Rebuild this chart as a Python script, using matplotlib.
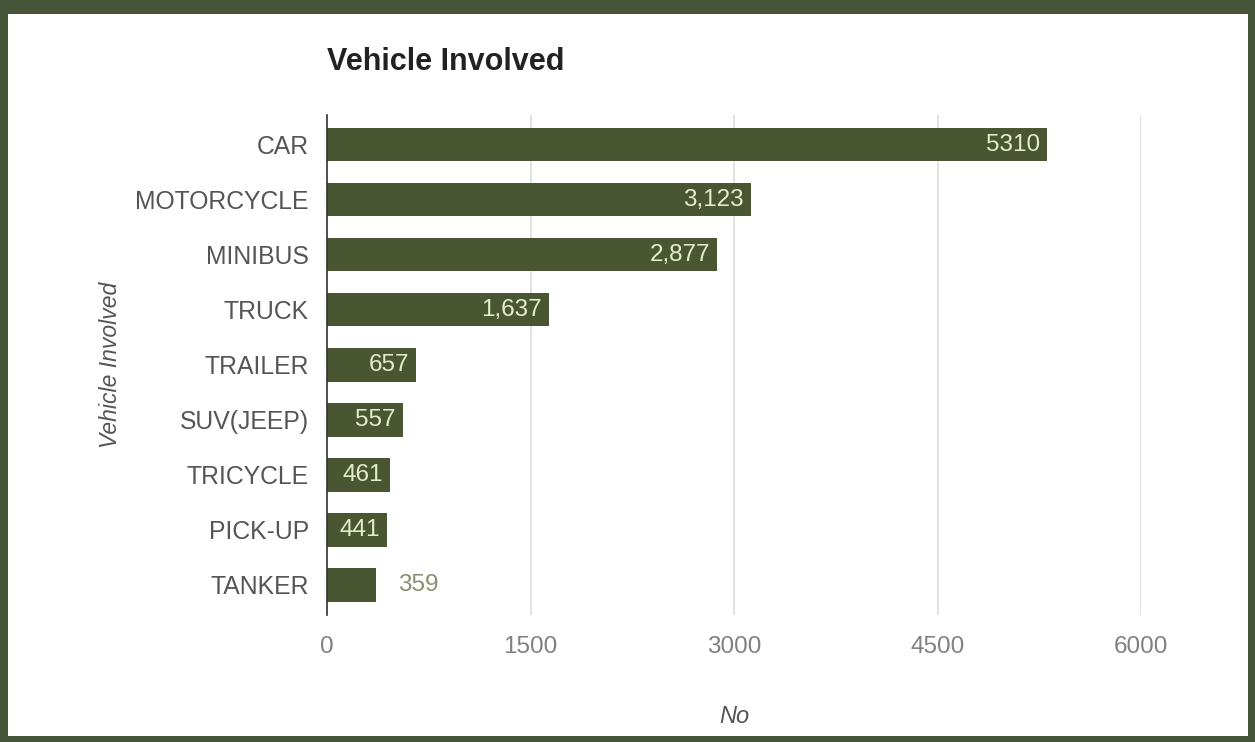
import matplotlib
matplotlib.use("Agg")
import matplotlib.pyplot as plt
from matplotlib.patches import Rectangle

vehicles = ['CAR', 'MOTORCYCLE', 'MINIBUS', 'TRUCK', 'TRAILER', 'SUV(JEEP)', 'TRICYCLE', 'PICK-UP', 'TANKER']
counts = [5310, 3123, 2877, 1637, 657, 557, 461, 441, 359]
count_labels = ['5310', '3,123', '2,877', '1,637', '657', '557', '461', '441', '359']
x_ticks = [0, 1500, 3000, 4500, 6000]

BAR = '#4a5631'
FRAME = '#46553a'

plt.rcParams['font.family'] = ['Liberation Sans', 'DejaVu Sans']

W, H = 1255, 742
fig = plt.figure(figsize=(W / 100, H / 100), dpi=100)
fig.patch.set_facecolor(FRAME)
# white panel inside the dark frame, kept behind the axes
fig.patches.append(Rectangle((8 / W, 6 / H), (1248 - 8) / W, (728 - 6) / H,
                             transform=fig.transFigure, facecolor='white',
                             edgecolor='none', zorder=-1))

ax = fig.add_axes([327 / W, 1 - 615 / H, (1141 - 327) / W, (615 - 115) / H])
ax.set_facecolor('white')

y = list(range(len(vehicles)))
ax.barh(y, counts, height=0.61, color=BAR, zorder=3)
ax.set_ylim(len(vehicles) - 0.45, -0.54)
ax.set_xlim(0, 6000)

for i, (v, lab) in enumerate(zip(counts, count_labels)):
    if v < 400:
        ax.annotate(lab, (v, i), xytext=(16, 0), textcoords='offset points',
                    ha='left', va='center', fontsize=17.5, color='#8a8f70', zorder=4)
    else:
        ax.annotate(lab, (v, i), xytext=(-5, 0), textcoords='offset points',
                    ha='right', va='center', fontsize=17.5, color='#e6eacf', zorder=4)

ax.set_yticks(y)
ax.set_yticklabels(vehicles, fontsize=17.8, color='#555555')
ax.set_xticks(x_ticks)
ax.set_xticklabels([str(t) for t in x_ticks], fontsize=17.5, color='#808080')
ax.tick_params(axis='both', length=0)
ax.tick_params(axis='y', pad=13)
ax.tick_params(axis='x', pad=15)

ax.grid(axis='x', color='#dddddd', linewidth=1.2, zorder=0)
for s in ['top', 'right', 'bottom']:
    ax.spines[s].set_visible(False)
ax.spines['left'].set_color('#333333')
ax.spines['left'].set_linewidth(1.2)
ax.spines['left'].set_zorder(5)

ax.set_xlabel('No', fontsize=17, style='italic', color='#555555', labelpad=34)
ax.set_ylabel('Vehicle Involved', fontsize=16.5, style='italic', color='#555555', labelpad=10)

fig.text(327 / W, 1 - 62 / H, 'Vehicle Involved', fontsize=22, fontweight='bold',
         color='#222222', ha='left', va='center')

fig.savefig('out.png', dpi=100, facecolor=fig.get_facecolor())
